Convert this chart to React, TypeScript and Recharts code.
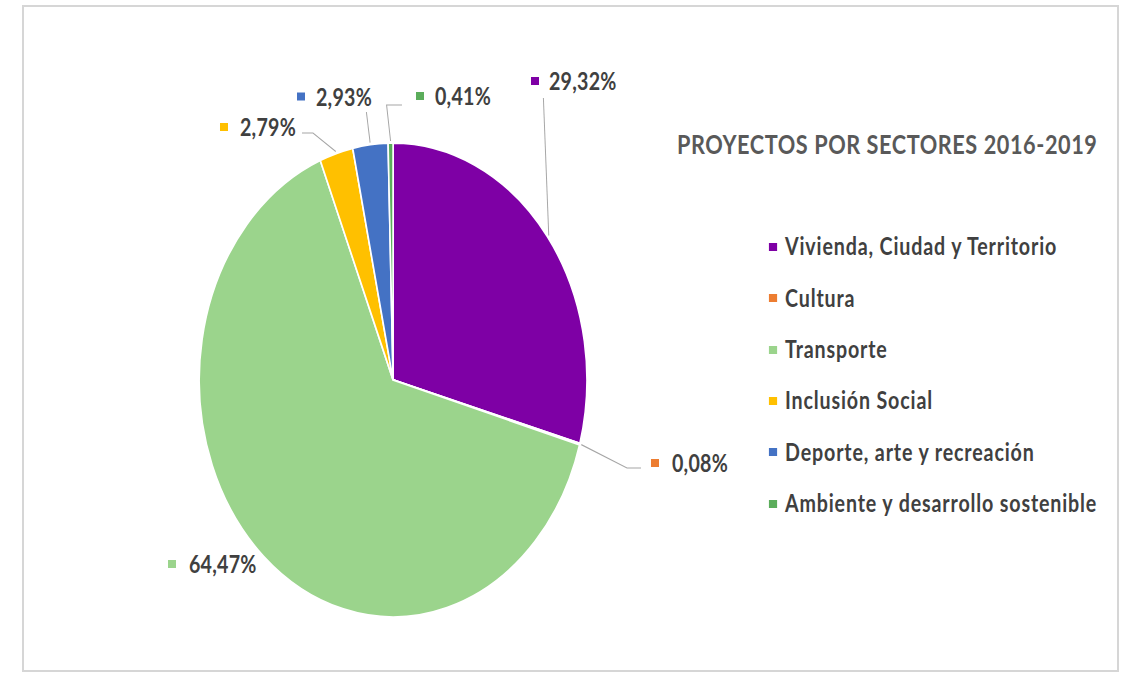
import React from 'react';
import { PieChart, Pie, Cell, Legend } from 'recharts';

const categories = [
  'Vivienda, Ciudad y Territorio',
  'Cultura',
  'Transporte',
  'Inclusión Social',
  'Deporte, arte y recreación',
  'Ambiente y desarrollo sostenible',
];
const shares = [29.32, 0.08, 64.47, 2.79, 2.93, 0.41];
const colors = ['#7E00A5', '#ED7D31', '#9BD48C', '#FFC000', '#4472C4', '#5BAD5B'];
const title = 'PROYECTOS POR SECTORES 2016-2019';

const data = categories.map((name, i) => ({ name, value: shares[i] }));

// horizontal compression of the whole picture (the reference is squeezed sideways)
const S = 0.818;
const W = 1122 / S;
const H = 679;
const CX = 389 / S;
const CY = 375;
const R = 237;

// label layout in page pixels: marker centre x, text x, text centre y, leader bends
const labelLayout: { mx: number; tx: number; ty: number; bends: number[][] }[] = [
  { mx: 535, tx: 549, ty: 81, bends: [[543.4, 98]] },
  { mx: 655, tx: 672, ty: 463, bends: [[627, 468], [641, 468]] },
  { mx: 172, tx: 189, ty: 564, bends: [] },
  { mx: 224, tx: 240, ty: 127, bends: [[313, 133], [302, 133]] },
  { mx: 301, tx: 316, ty: 96.5, bends: [[366.4, 112]] },
  { mx: 420, tx: 435, ty: 96, bends: [[386.6, 105], [402, 105]] },
];

const legendLayout = { mx: 773, tx: 785, firstY: 247, step: 51.3, titleX: 677, titleY: 145 };

const fmt = (v: number) => v.toFixed(2).replace('.', ',') + '%';

const renderLabel = (props: any) => {
  const { cx, cy, midAngle, outerRadius, index } = props;
  const L = labelLayout[index];
  const rad = Math.PI / 180;
  const ex = cx + (outerRadius + 2) * Math.cos(-midAngle * rad);
  const ey = cy + (outerRadius + 2) * Math.sin(-midAngle * rad);
  const pts = [[ex, ey], ...L.bends.map(([x, y]) => [x / S, y])];
  return (
    <g key={`lbl-${index}`}>
      {L.bends.length > 0 && (
        <polyline
          points={pts.map((p) => p.join(',')).join(' ')}
          fill="none"
          stroke="#A6A6A6"
          strokeWidth={1.2}
        />
      )}
      <rect x={(L.mx - 4) / S} y={L.ty - 4} width={8 / S} height={8} fill={colors[index]} />
      <text
        x={L.tx / S}
        y={L.ty}
        dominantBaseline="central"
        fontFamily="Lato"
        fontWeight={700}
        fontSize={24}
        letterSpacing={0.3}
        fill="#404040"
      >
        {fmt(shares[index])}
      </text>
    </g>
  );
};

const renderLegend = () => {
  const tfs = 26.5;
  const lfs = 24;
  return (
    <div style={{ position: 'relative', width: W, height: H, fontFamily: 'Lato', fontWeight: 700 }}>
      <div
        style={{
          position: 'absolute',
          left: legendLayout.titleX / S,
          top: legendLayout.titleY - 0.529 * tfs,
          fontSize: tfs,
          lineHeight: 1,
          letterSpacing: 0.7,
          color: '#595959',
          whiteSpace: 'nowrap',
        }}
      >
        {title}
      </div>
      {categories.map((c, i) => {
        const y = legendLayout.firstY + i * legendLayout.step;
        return (
          <React.Fragment key={c}>
            <div
              style={{
                position: 'absolute',
                left: (legendLayout.mx - 4) / S,
                top: y - 4,
                width: 8 / S,
                height: 8,
                background: colors[i],
              }}
            />
            <div
              style={{
                position: 'absolute',
                left: legendLayout.tx / S,
                top: y - 0.529 * lfs,
                fontSize: lfs,
                lineHeight: 1,
                letterSpacing: 1.05,
                color: '#404040',
                whiteSpace: 'nowrap',
              }}
            >
              {c}
            </div>
          </React.Fragment>
        );
      })}
    </div>
  );
};

export default function App() {
  return (
    <div
      style={{
        position: 'absolute',
        left: 0,
        top: 0,
        width: 1122,
        height: 679,
        overflow: 'hidden',
        background: '#ffffff',
      }}
    >
      <div
        style={{
          position: 'absolute',
          left: 22,
          top: 5,
          width: 1097,
          height: 667,
          border: '2px solid #D6D6D6',
          boxSizing: 'border-box',
        }}
      />
      <div
        style={{
          position: 'absolute',
          left: 0,
          top: 0,
          width: W,
          height: H,
          transform: `scaleX(${S})`,
          transformOrigin: '0 0',
        }}
      >
        <PieChart width={W} height={H}>
          <Pie
            data={data}
            dataKey="value"
            nameKey="name"
            cx={CX}
            cy={CY}
            outerRadius={R}
            startAngle={90}
            endAngle={-270}
            stroke="#ffffff"
            strokeWidth={2}
            label={renderLabel}
            labelLine={false}
            isAnimationActive={false}
          >
            {data.map((d, i) => (
              <Cell key={d.name} fill={colors[i]} />
            ))}
          </Pie>
          <Legend
            content={renderLegend}
            wrapperStyle={{ position: 'absolute', left: 0, top: 0, width: W, height: H }}
          />
        </PieChart>
      </div>
    </div>
  );
}
